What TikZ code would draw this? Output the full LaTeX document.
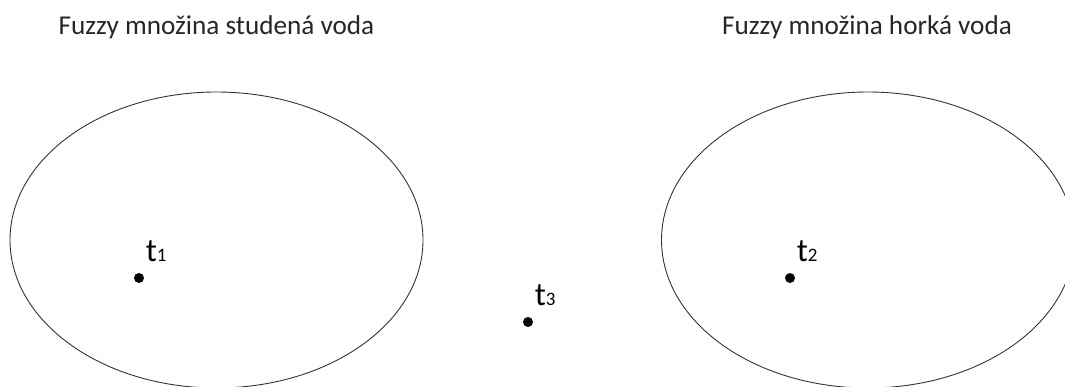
\documentclass[tikz,border=0pt]{standalone}
\usepackage{fontspec}
\setmainfont{Carlito}
\usetikzlibrary{shapes.geometric, positioning}
\definecolor{SetLine}{HTML}{333333}
\tikzset{
    % sets and elements
    fuzzyset/.style={
        ellipse,
        draw=SetLine,
        line width=0.9pt,
        minimum width=413pt,
        minimum height=296pt,
        inner sep=0pt
    },
    settitle/.style={
        anchor=base,
        inner sep=0pt,
        font=\fontsize{27.2}{30}\selectfont,
        text=black!85
    },
    element/.style={
        circle,
        fill=black,
        minimum size=10pt,
        inner sep=0pt
    },
    elemlabel/.style={
        inner sep=0pt,
        font=\fontsize{33}{35}\selectfont
    }
}
\newcommand{\elem}[1]{t{\fontsize{19}{20}\selectfont #1}}

\begin{document}
\begin{tikzpicture}[x=1pt, y=-1pt]
    \useasboundingbox (0,0) rectangle (1065,387);
    \clip (0,0) rectangle (1065,387);

    \node[settitle] (coldtitle) at (216.5,35) {Fuzzy množina studená voda};
    \node[settitle] (hottitle) at (867,35) {Fuzzy množina horká voda};

    \node[fuzzyset] (cold) at (216.5,240) {};
    \node[fuzzyset] (hot) at (868,240) {};

    \node[element] (t1) at (139,278) {};
    \node[element] (t2) at (790,278) {};
    \node[element] (t3) at (528,322) {};

    \node[elemlabel, above right=12pt and 3pt of t1] (t1lab) {\elem{1}};
    \node[elemlabel, above right=12pt and 3pt of t2] (t2lab) {\elem{2}};
    \node[elemlabel, above right=12pt and 3pt of t3] (t3lab) {\elem{3}};
\end{tikzpicture}
\end{document}
